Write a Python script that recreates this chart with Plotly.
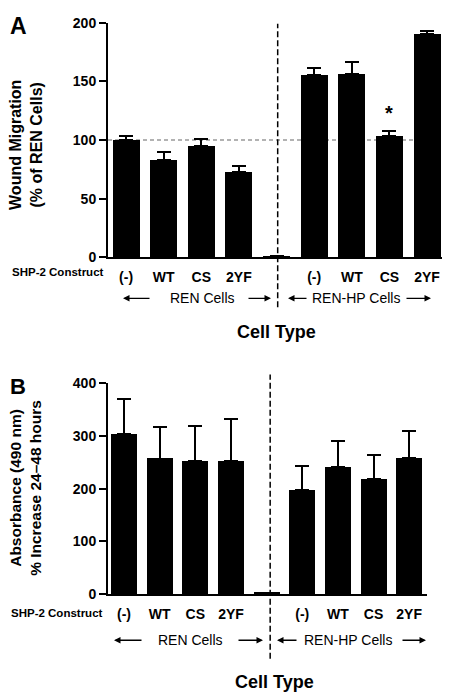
import plotly.graph_objects as go

# ---------------- data ----------------
constructs = ["(-)", "WT", "CS", "2YF", "", "(-)", "WT", "CS", "2YF"]
slots = list(range(len(constructs)))

# Panel A: wound migration (% of REN cells)
migration = [100.3, 82.8, 95.3, 72.8, 1.0, 155.6, 156.4, 103.6, 190.6]
migration_err = [3.3, 6.9, 5.5, 5.0, 0.0, 6.3, 10.0, 4.2, 2.7]

# Panel B: absorbance (490 nm), % increase 24-48 h
absorbance = [304, 256.7, 251.7, 251.7, 2.0, 196.6, 240.6, 217.8, 257.9]
absorbance_err = [66, 60, 67, 80, 0, 47, 49, 47, 51]

group_labels = ["REN Cells", "REN-HP Cells"]
y_ticks_a = [0, 50, 100, 150, 200]
y_ticks_b = [0, 100, 200, 300, 400]

# ---------------- layout helpers ----------------
W, H = 450, 694
FONT = "Arial, Liberation Sans, sans-serif"


def px(x):
    return x / W


def py(y):
    return 1 - y / H


fig = go.Figure()

fig.add_trace(go.Bar(
    x=slots, y=migration, width=0.72,
    marker=dict(color="black", line=dict(width=0)),
    error_y=dict(type="data", array=migration_err, arrayminus=[0] * len(slots),
                 symmetric=False, thickness=2, width=7, color="black"),
    xaxis="x", yaxis="y", showlegend=False))

fig.add_trace(go.Bar(
    x=slots, y=absorbance, width=0.73,
    marker=dict(color="black", line=dict(width=0)),
    error_y=dict(type="data", array=absorbance_err, arrayminus=[0] * len(slots),
                 symmetric=False, thickness=2, width=7, color="black"),
    xaxis="x2", yaxis="y2", showlegend=False))

tickvals = [i for i, c in enumerate(constructs) if c]
ticktext = [c for c in constructs if c]

xcommon = dict(tickvals=tickvals, ticktext=ticktext, showline=True, linewidth=2,
               linecolor="black", ticks="outside", ticklen=6,
               tickcolor="rgba(0,0,0,0)", showgrid=False, zeroline=False,
               tickfont=dict(family=FONT, size=14, color="black", weight="bold"))
ycommon = dict(showline=True, linewidth=2, linecolor="black", ticks="outside",
               ticklen=7, tickwidth=2, tickcolor="black", showgrid=False,
               zeroline=False,
               tickfont=dict(family=FONT, size=14, color="black", weight="bold"))

fig.update_layout(
    width=W, height=H, margin=dict(l=0, r=0, t=0, b=0),
    paper_bgcolor="white", plot_bgcolor="white", bargap=0,
    xaxis=dict(domain=[px(100), px(439)], range=[-0.48, 8.53], anchor="y", **xcommon),
    yaxis=dict(domain=[py(247), py(7)], range=[0, 200], tickvals=y_ticks_a,
               anchor="x", **ycommon),
    xaxis2=dict(domain=[px(100), px(419)], range=[-0.45, 8.5], anchor="y2", **xcommon),
    yaxis2=dict(domain=[py(591.7), py(376)], range=[0, 400], tickvals=y_ticks_b,
                anchor="x2", **ycommon),
)

# reference line at 100 % (panel A)
fig.add_shape(type="line", xref="paper", yref="y", x0=px(100), x1=1, y0=100, y1=100,
              line=dict(color="#999999", width=1.5, dash="4px,3px"), layer="below")

# vertical dashed separators
fig.add_shape(type="line", xref="x", yref="paper", x0=4.03, x1=4.03,
              y0=py(298), y1=py(8), line=dict(color="black", width=1.5, dash="6px,3px"))
fig.add_shape(type="line", xref="x2", yref="paper", x0=4.1, x1=4.1,
              y0=py(658), y1=py(367), line=dict(color="black", width=1.5, dash="6px,3px"))

ann = []


def text(x, y, s, size, bold=True, angle=0, xanchor="center"):
    ann.append(dict(xref="paper", yref="paper", x=px(x), y=py(y), text=s,
                    showarrow=False, xanchor=xanchor, yanchor="middle", textangle=angle,
                    font=dict(family=FONT, size=size, color="black",
                              weight="bold" if bold else "normal")))


def arrow(tip, tail, y):
    ann.append(dict(xref="paper", yref="paper", x=px(tip), y=py(y), text="",
                    showarrow=True, axref="pixel", ayref="pixel", ax=tail - tip, ay=0,
                    arrowhead=2, arrowsize=1, arrowwidth=1.3, arrowcolor="black"))


# panel letters
text(0, 10, "A", 23, xanchor="left")
text(0, 379, "B", 22, xanchor="left")

# y titles
text(18, 132, "Wound Migration<br>(% of REN Cells)", 16, angle=-90)
text(18, 483, "Absorbance (490 nm)<br>% Increase 24–48 hours", 15.5, angle=-90)

# construct row labels
text(50, 262, "SHP-2 Construct", 11.5)
text(49, 611, "SHP-2 Construct", 11.5)

# group rows
text(194, 289, group_labels[0], 14, bold=False)
text(348, 289, group_labels[1], 14, bold=False)
arrow(115, 143, 289)
arrow(263, 239, 289)
arrow(280, 300, 289)
arrow(423, 397, 289)

text(182.5, 639, group_labels[0], 14, bold=False)
text(339.5, 639, group_labels[1], 14, bold=False)
arrow(106, 135, 639)
arrow(255, 229, 639)
arrow(269, 290, 639)
arrow(418, 393, 639)

# axis titles
text(268, 323, "Cell Type", 18)
text(266, 682, "Cell Type", 18)

# significance star
ann.append(dict(xref="x", yref="y", x=7, y=migration[7] + migration_err[7] + 4,
                text="*", showarrow=False, yanchor="bottom",
                font=dict(family=FONT, size=20, color="black", weight="bold")))

fig.update_layout(annotations=ann)
fig.write_html("out.html")
